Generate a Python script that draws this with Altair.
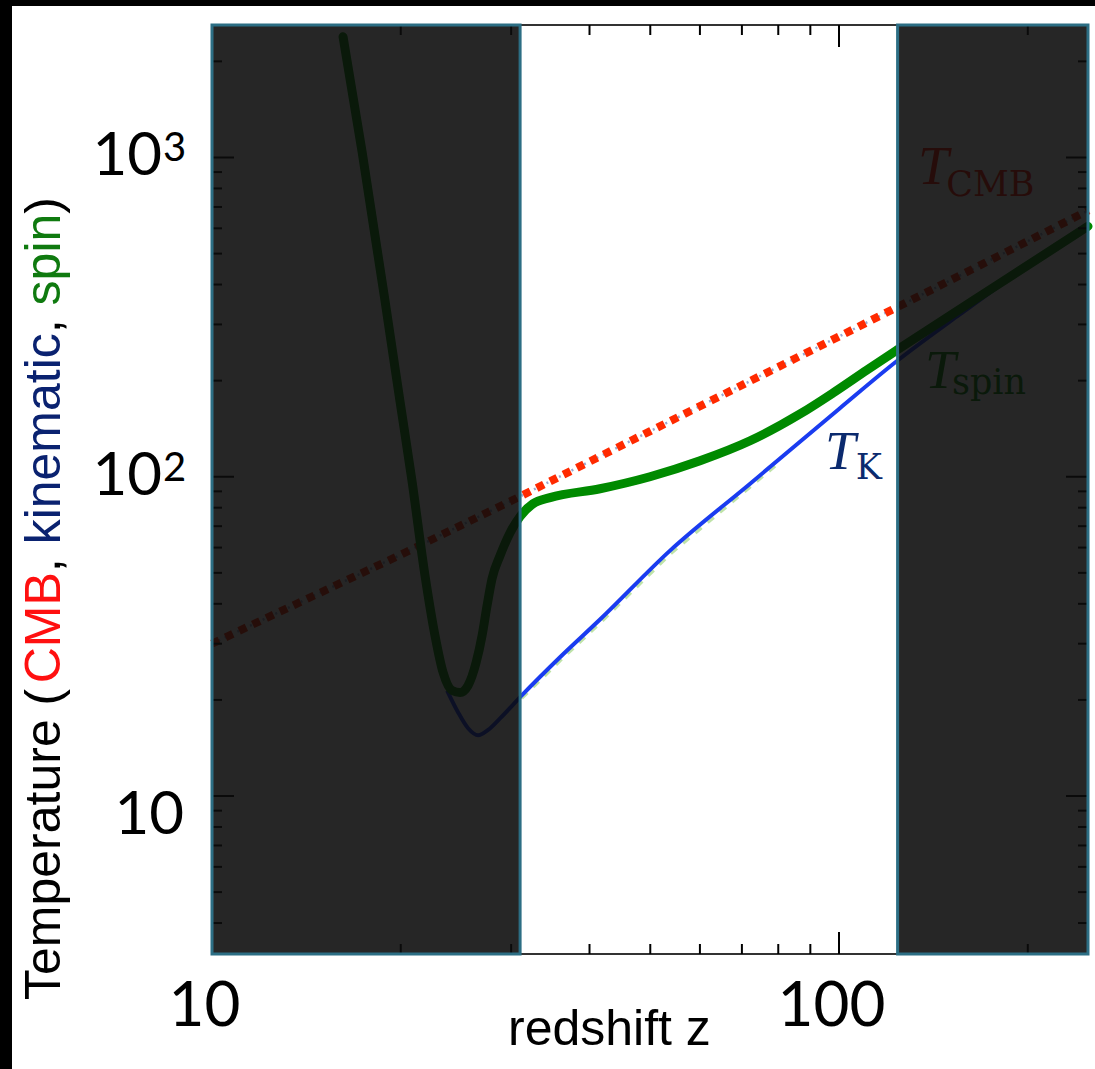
import altair as alt
import pandas as pd

# ---------------- data ----------------
# spin temperature (green)
spin_z = [16.18, 17.35, 18.88, 19.94, 20.84, 21.86, 22.68, 23.36, 24.15, 24.87, 25.61, 26.38,
          26.96, 27.46, 27.97, 28.80, 29.88, 30.99, 32.51, 34.60, 41.57, 49.94, 60.02, 72.14,
          86.67, 97.81, 110.8, 123.7, 180.6, 249.5]
spin_T = [2388, 1044, 354.8, 172.8, 97.2, 49.1, 31.8, 24.4, 21.4, 21.1, 22.2, 26.2,
          31.8, 39.5, 48.0, 56.6, 66.8, 75.0, 82.3, 86.0, 91.7, 100, 112.2, 129.6,
          157.3, 183.0, 216, 249.3, 403.8, 608.6]
# kinetic (gas) temperature (blue)
kin_z = [23.71, 24.68, 25.61, 26.57, 27.56, 28.80, 31.22, 35.89, 41.57, 53.76, 72.14, 100.0,
         123.7, 156.0, 194.4, 249.5]
kin_T = [21.4, 18.3, 16.3, 15.5, 16.1, 17.5, 20.7, 27.2, 35.7, 58.7, 95.1, 163.1,
         230.4, 323, 440, 600]
# faint dashed companion of the kinetic curve (light green)
kin2_z = [31.2, 35.9, 41.6, 53.8, 72.1, 80.0]
kin2_T = [20.2, 26.5, 34.8, 57.2, 92.7, 110]
# CMB temperature (dotted)
cmb_z = [10, 20, 30, 50, 100, 150, 250]
cmb_T = [30, 57, 84, 139, 275, 411, 683]

# shaded (excluded) redshift ranges
shade_z0 = [10, 124]
shade_z1 = [31, 249.5]

# curve labels
lab_main = ["T", "T", "T"]
lab_sub = ["CMB", "spin", "K"]
lab_colors = ["#ff1a00", "#008a00", "#0b2a6e"]
lab_main_z = [133.6, 137.1, 95.0]
lab_main_T = [823, 189.8, 105.9]
lab_sub_z = [148.2, 151.4, 106.3]
lab_sub_T = [755, 181.7, 98.6]

# axis ticks and labels
x_labels = [10, 100]
y_label_vals = [100, 1000]
y_label_sups = ["2", "3"]
y_label_plain = [10]
x_major = [10, 100]
x_minor = [20, 30, 40, 50, 60, 70, 80, 90, 200]
y_major = [10, 100, 1000]
y_minor = [4, 5, 6, 7, 8, 9, 20, 30, 40, 50, 60, 70, 80, 90,
           200, 300, 400, 500, 600, 700, 800, 900, 2000]

title_parts = ["Temperature (", "CMB", ", ", "kinematic", ", ", "spin", ")"]
title_colors = ["#000000", "#ff1010", "#000000", "#0a2270", "#000000", "#0f7a0f", "#000000"]

# ---------------- layout ----------------
W, H = 876, 929
PADL, PADT, PADR, PADB = 212, 25, 7, 115

xscale = alt.Scale(type="log", domain=[10, 249.5], nice=False)
yscale = alt.Scale(type="log", domain=[3.2, 2600], nice=False)

xaxis = alt.Axis(values=x_labels, title=None, ticks=False, domain=False, grid=False,
                 labelFont="Lato", labelFontSize=62, labelPadding=22, labelColor="#000",
                 labelOffset=-8, labelFlush=False, labelOverlap=False, format="d")
yaxis = alt.Axis(values=[10, 100, 1000], title=None, ticks=False, domain=False, grid=False,
                 labels=False)


def X(field):
    return alt.X(field, type="quantitative", scale=xscale, axis=xaxis)


def Y(field):
    return alt.Y(field, type="quantitative", scale=yscale, axis=yaxis)


one = pd.DataFrame({"a": [0]})

cmb_df = pd.DataFrame({"z": cmb_z, "T": cmb_T})
spin_df = pd.DataFrame({"z": spin_z, "T": spin_T})
kin_df = pd.DataFrame({"z": kin_z, "T": kin_T})
kin2_df = pd.DataFrame({"z": kin2_z, "T": kin2_T})

cmb_under = alt.Chart(cmb_df).mark_line(color="#9aa8d0", strokeWidth=2.5, strokeDash=[2, 5]).encode(
    x=X("z"), y=Y("T"))
cmb_line = alt.Chart(cmb_df).mark_line(color="#ff2a00", strokeWidth=8, strokeDash=[8, 7],
                                       strokeCap="butt").encode(x=X("z"), y=Y("T"))
kin2_line = alt.Chart(kin2_df).mark_line(color="#bfe3a8", strokeWidth=3, strokeDash=[8, 8]).encode(
    x=X("z"), y=Y("T"))
kin_line = alt.Chart(kin_df).mark_line(color="#1a3cf0", strokeWidth=4, interpolate="monotone").encode(
    x=X("z"), y=Y("T"))
spin_line = alt.Chart(spin_df).mark_line(color="#008a00", strokeWidth=9, interpolate="monotone",
                                         strokeCap="round").encode(x=X("z"), y=Y("T"))

lab_df = pd.DataFrame({"main": lab_main, "sub": lab_sub, "c": lab_colors,
                       "mz": lab_main_z, "mT": lab_main_T, "sz": lab_sub_z, "sT": lab_sub_T})
lab_main_layer = alt.Chart(lab_df).mark_text(font="Liberation Serif", fontSize=55, fontStyle="italic",
                                             align="left", baseline="alphabetic").encode(
    x=X("mz"), y=Y("mT"), text="main:N", color=alt.Color("c:N", scale=None))
lab_sub_layer = alt.Chart(lab_df).mark_text(font="DejaVu Serif", fontSize=35,
                                            align="left", baseline="alphabetic").encode(
    x=X("sz"), y=Y("sT"), text="sub:N", color=alt.Color("c:N", scale=None))

# y tick labels: 10^2, 10^3 with superscripts, and plain 10
ylab_df = pd.DataFrame({"v": y_label_vals, "base": ["10", "10"], "sup": y_label_sups})
ylab_base = alt.Chart(ylab_df).mark_text(font="Lato", fontSize=60, align="right", baseline="middle",
                                         color="#000").encode(
    y=Y("v"), x=alt.value(162 - PADL), text="base:N")
ylab_sup = alt.Chart(ylab_df).mark_text(font="Lato", fontSize=40, align="left", baseline="top",
                                        dy=-28, color="#000").encode(
    y=Y("v"), x=alt.value(163 - PADL), text="sup:N")
ylab_plain = alt.Chart(pd.DataFrame({"v": y_label_plain})).mark_text(
    font="Lato", fontSize=60, align="right", baseline="middle", dy=20, color="#000").encode(
    y=Y("v"), x=alt.value(184 - PADL), text=alt.value("10"))

# inward ticks on all four sides
tick_layers = []
for vals, ln in [(x_major, 22), (x_minor, 10)]:
    d = pd.DataFrame({"v": vals})
    tick_layers.append(alt.Chart(d).mark_rule(color="#000", strokeWidth=2).encode(
        x=X("v"), y=alt.value(H), y2=alt.value(H - ln)))
    tick_layers.append(alt.Chart(d).mark_rule(color="#000", strokeWidth=2).encode(
        x=X("v"), y=alt.value(0), y2=alt.value(ln)))
for vals, ln in [(y_major, 22), (y_minor, 10)]:
    d = pd.DataFrame({"v": vals})
    tick_layers.append(alt.Chart(d).mark_rule(color="#000", strokeWidth=2).encode(
        y=Y("v"), x=alt.value(0), x2=alt.value(ln)))
    tick_layers.append(alt.Chart(d).mark_rule(color="#000", strokeWidth=2).encode(
        y=Y("v"), x=alt.value(W), x2=alt.value(W - ln)))

shade_df = pd.DataFrame({"z0": shade_z0, "z1": shade_z1})
shade = alt.Chart(shade_df).mark_rect(fill="#0b0b0b", fillOpacity=0.89, stroke="#2c6e84",
                                      strokeWidth=3).encode(
    x=X("z0"), x2="z1", y=alt.value(0), y2=alt.value(H))

# black frame strips of the original screenshot (left and top edges)
left_strip = alt.Chart(one).mark_rect(color="#000").encode(
    x=alt.value(-PADL), x2=alt.value(-PADL + 12), y=alt.value(-PADT), y2=alt.value(H + PADB))
top_strip = alt.Chart(one).mark_rect(color="#000").encode(
    x=alt.value(-PADL), x2=alt.value(W + PADR), y=alt.value(-PADT), y2=alt.value(-PADT + 6))

# x axis title
xtitle = alt.Chart(one).mark_text(text="redshift z", font="Liberation Sans", fontSize=50,
                                  align="left", baseline="alphabetic", color="#000").encode(
    x=alt.value(508 - PADL), y=alt.value(1045 - PADT))

# multi-coloured y axis title, written bottom-to-top
cw = {'T': .611, 'e': .556, 'm': .833, 'p': .556, 'r': .333, 'a': .556, 't': .278, 'u': .556,
      ' ': .278, '(': .333, 'C': .722, 'M': .833, 'B': .667, ',': .278, 'k': .5, 'i': .222,
      'n': .556, 'c': .5, 's': .5, ')': .333}
TF = 50
ystart = 1000 - PADT
ytitle_layers = []
off = 0.0
for part, col in zip(title_parts, title_colors):
    ytitle_layers.append(alt.Chart(one).mark_text(text=part, font="Liberation Sans", fontSize=TF,
                                                  angle=270, align="left", baseline="alphabetic",
                                                  color=col).encode(
        x=alt.value(60 - PADL), y=alt.value(ystart - off)))
    off += sum(cw.get(ch, .55) for ch in part) * TF

chart = alt.layer(
    cmb_under, cmb_line, kin2_line, kin_line, spin_line,
    lab_main_layer, lab_sub_layer,
    *tick_layers,
    shade,
    ylab_base, ylab_sup, ylab_plain,
    left_strip, top_strip, xtitle, *ytitle_layers,
).properties(
    width=W, height=H,
    autosize=alt.AutoSizeParams(type="none"),
    padding={"left": PADL, "top": PADT, "right": PADR, "bottom": PADB},
    background="white",
).configure_view(stroke="#333333", strokeWidth=2)

chart.save("out.html", embed_options={"renderer": "svg", "actions": False})
